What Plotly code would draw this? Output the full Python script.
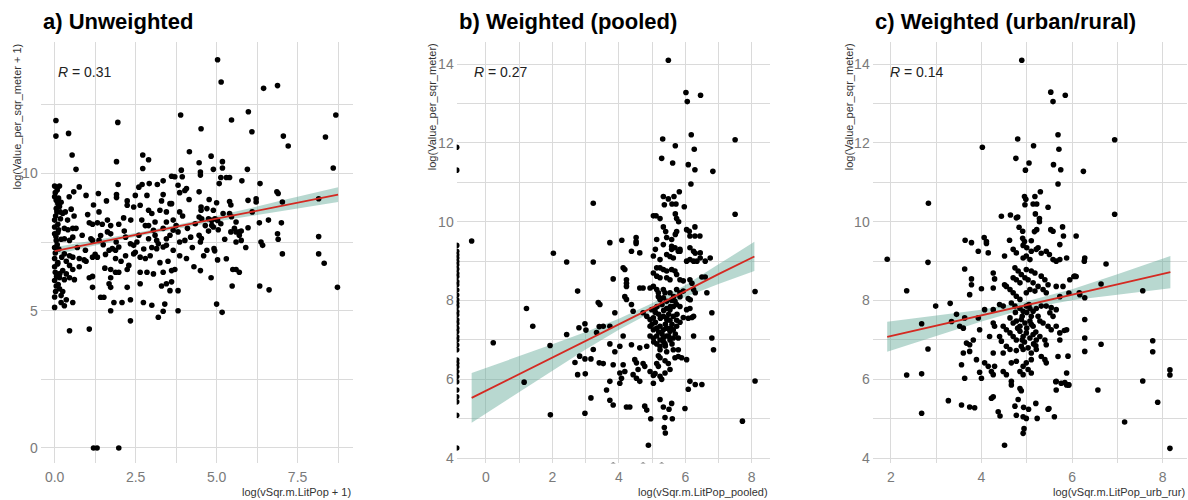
import plotly.graph_objects as go

# ---------------- data ----------------
# Panel a) Unweighted
a_x = [5.03, 5.14, 6.45, 6.88, 0.04, 0.04, 0.43, 1.95, 3.89, 4.52, 5.46, 5.98, 6.09, 8.68, 7.06, 7.21, 8.36, 0.54, 2.72, 4.16, 4.83,
       0.66, 1.91, 2.9, 2.72, 3.91,
       0.0, 0.15, 0.59, 0.76, 0.97, 1.35, 1.96, 1.91, 1.91, 2.24, 2.6, 2.7, 2.49, 2.92, 3.17, 3.35, 3.35, 3.61, 3.71, 3.81, 3.86, 4.02, 4.07, 3.94,
       0.0, 0.05, 0.1, 0.15, 0.05, 0.17, 0.25, 0.51, 1.37, 1.07, 1.17, 1.32, 1.47, 1.63, 1.73, 2.13, 2.24, 2.44, 2.64, 2.9, 3.0, 3.1, 3.25, 3.45, 3.45, 3.56, 3.66, 3.86, 3.61, 2.69, 2.8, 1.98,
       0.0, 0.0, 0.05, 0.0, 0.3, 0.41, 0.56, 0.66, 0.3, 0.46, 0.56, 1.12, 1.17, 1.37, 1.63, 1.73, 1.42, 1.9, 1.98, 1.88, 2.19, 2.34, 2.44, 2.54, 2.9, 3.05, 2.9, 3.1, 3.35, 3.45, 3.56, 3.66, 3.81, 3.86, 4.02, 4.2, 3.15, 3.2,
       0.3, 0.46, 0.56, 0.76, 0.91, 1.17, 1.32, 1.57, 1.68, 1.78, 1.88, 2.19, 2.44, 2.49, 2.64, 2.8, 2.95, 3.15, 3.35, 3.45, 3.66, 3.86, 4.07, 2.29, 2.24, 1.73, 2.64, 2.85, 3.05, 3.35, 3.61, 3.71, 0.36, 0.46, 0.56, 0.25, 0.36, 0.76, 0.97,
       0.15, 0.3, 0.46, 0.61, 1.07, 1.17, 1.73, 1.88, 1.98, 1.17, 1.68, 1.73, 2.24, 2.64, 3.3, 3.45, 3.61, 3.56, 3.81, 0.05, 0.15, 0.25, 0.0, 0.2, 0.36, 0.56, 0.0, 0.3, 1.42, 1.52, 1.83, 2.08, 2.34, 2.74, 3.0, 3.4, 3.2, 3.35, 3.81, 1.73, 2.34, 0.46, 1.07,
       0.0, 0.02, 0.0, 0.03, 0.0, 0.02, 0.04, 0.0, 0.03, 0.02, 0.08, 0.1, 0.12, 0.06, 0.1,
       1.2, 1.31, 1.98,
       4.46, 4.5, 4.5, 4.9, 5.18, 5.18, 5.95, 8.6, 5.13, 5.3, 5.4, 5.08, 5.78, 6.34, 4.46, 6.86, 6.9, 4.77, 5.0, 5.4, 5.44, 5.97, 6.22, 6.22, 7.03, 8.15,
       4.52, 4.52, 4.7, 4.9, 5.2, 5.4, 5.46, 4.46, 4.54, 4.75, 4.85, 4.95, 5.03, 5.13, 4.85, 4.9, 4.34, 5.6, 6.32, 7.0,
       4.75, 5.44, 5.6, 5.7, 5.76, 5.7, 5.97, 6.88, 6.9, 4.46, 4.53, 4.5, 5.6, 5.76, 6.37, 6.42, 7.03, 8.15, 8.15, 8.32,
       4.7, 4.92, 4.94, 5.03, 5.3, 4.5, 5.5, 5.6, 5.7, 4.83, 5.48, 6.33, 6.62, 8.73, 5.0, 5.17,
       0.08, 0.12, 0.2, 0.07, 0.18, 0.1, 0.2, 0.13, 0.22, 0.09, 0.16, 0.11, 0.2, 0.33, 0.4, 0.6, 0.7, 0.85, 0.95, 1.02,
       1.25, 1.5, 1.55, 2.05, 2.15, 2.35, 2.6, 2.75, 3.0, 3.25, 3.5, 3.75, 3.95, 4.1, 4.25, 4.3, 4.15, 3.3, 2.85, 1.6,
       1.2, 0.45, 4.6, 5.25, 5.55, 5.9, 6.1, 6.6, 5.05, 4.65]
a_y = [14.14, 13.33, 13.1, 13.2, 11.93, 11.36, 11.46, 11.86, 12.13, 11.63, 11.95, 12.25, 11.52, 12.13, 11.36, 11.0, 11.33, 10.67, 10.67, 10.79, 10.63,
       10.15, 10.43, 10.5, 10.18, 10.12,
       9.54, 9.54, 9.33, 9.51, 9.2, 9.27, 9.6, 9.23, 9.12, 9.0, 9.5, 9.6, 9.2, 9.63, 9.6, 9.73, 9.23, 9.9, 9.88, 9.57, 9.3, 9.38, 9.45, 9.88,
       9.15, 9.02, 8.9, 8.8, 8.72, 8.6, 8.54, 8.7, 8.6, 8.2, 8.15, 8.2, 8.15, 8.3, 8.1, 8.38, 8.84, 8.78, 8.84, 8.66, 8.54, 8.23, 8.66, 8.6, 8.23, 8.9, 8.3, 8.6, 8.9, 8.3, 8.1, 8.15,
       8.05, 7.8, 7.56, 7.3, 8.0, 7.95, 8.0, 8.0, 7.62, 7.56, 7.68, 7.62, 7.56, 7.56, 7.87, 7.8, 7.74, 7.5, 7.32, 7.2, 7.68, 7.44, 7.38, 7.5, 8.1, 7.93, 7.62, 7.75, 8.0, 7.62, 7.75, 7.93, 7.87, 7.5, 7.56, 7.68, 7.56, 7.44,
       7.07, 7.0, 6.95, 6.9, 6.85, 6.95, 6.95, 7.05, 7.2, 7.26, 6.9, 7.0, 7.07, 7.13, 6.95, 6.9, 7.0, 7.26, 7.32, 7.38, 7.2, 7.0, 6.9, 6.65, 6.5, 6.5, 6.4, 6.4, 6.34, 6.4, 6.46, 6.5, 6.8, 6.65, 6.5, 6.46, 6.34, 6.6, 6.8,
       6.2, 6.13, 6.2, 6.13, 6.2, 6.25, 6.2, 6.4, 6.4, 5.85, 5.98, 5.85, 5.85, 5.98, 5.9, 5.98, 6.05, 5.73, 5.73, 5.9, 5.8, 5.7, 5.5, 5.55, 5.4, 5.3, 5.12, 5.18, 5.49, 5.49, 5.3, 5.3, 5.4, 5.3, 5.2, 5.24, 4.76, 4.98, 5.0, 5.0, 4.63, 4.27, 4.33,
       6.6, 6.4, 6.1, 5.7, 6.9, 7.1, 7.7, 8.3, 8.45, 9.3, 7.4, 6.75, 7.95, 6.25, 8.15,
       0.0, 0.0, 0.0,
       10.39, 10.05, 9.94, 10.15, 10.2, 10.43, 10.15, 10.2, 9.85, 9.85, 9.85, 9.63, 9.73, 9.63, 9.33, 9.33, 9.27, 9.05, 8.93, 8.98, 8.85, 9.02, 9.08, 8.96, 8.96, 9.08,
       8.78, 8.66, 8.72, 8.66, 8.54, 8.54, 8.42, 8.41, 8.35, 8.35, 8.29, 8.35, 8.29, 8.17, 8.11, 8.05, 8.17, 8.23, 8.2, 8.2,
       7.9, 7.87, 7.87, 7.87, 7.9, 7.75, 8.02, 7.8, 7.6, 7.75, 7.63, 7.5, 7.5, 7.56, 7.5, 7.38, 7.07, 7.7, 7.07, 6.73,
       7.2, 7.26, 7.18, 6.85, 6.89, 6.46, 6.5, 6.5, 6.4, 6.2, 5.9, 5.9, 5.76, 5.85, 5.24, 4.94,
       9.4, 9.1, 8.95, 8.6, 8.35, 7.85, 7.6, 7.25, 6.95, 6.7, 6.35, 5.95, 5.3, 8.6, 8.3, 8.45, 7.3, 7.75, 7.2, 8.5,
       7.05, 7.4, 6.55, 6.8, 7.9, 8.3, 7.75, 7.25, 7.3, 6.75, 6.8, 8.1, 8.45, 8.0, 7.3, 6.6, 9.05, 9.0, 9.2, 9.0,
       8.85, 9.15, 7.0, 7.6, 8.0, 7.3, 8.6, 8.3, 7.95, 8.1]

# Panel b) Weighted (pooled)
b_x = [5.49, 6.02, 6.06, 6.46, 5.32, 5.7, 6.18, 7.5, 5.29, 5.62, 6.09, 6.27, 6.29, 6.83, 6.17, 3.23, 7.5, 5.34, 5.49, 5.66, 5.82, 5.37, 5.6, 5.72, 5.97,
       5.04, 5.12, 5.24, 5.7, 5.74, 5.8, 5.34, 5.41, 6.04, 6.12, 6.29, 6.14, 6.29, 6.44, 5.74, 5.7, 5.14, 5.44, 5.59, 4.52, 4.52, 4.52, 3.73, 4.09, -0.43,
       0.22, 1.22, 1.41, 1.15, 1.93, 1.94, 2.03, 2.43, 2.43, 2.76, 2.8, 2.68, 2.82, 2.98, 3.01, 2.98, 3.16, 2.99, 2.76, 2.98, 3.16, 3.23, 3.23, 3.33, 3.38, 3.41, 3.41,
       8.1, 8.1, 7.72,
       4.38, 4.63, 5.44, 5.54, 5.64, 5.04, 5.24, 6.04, 6.14, 6.25, 6.35, 6.45, 6.6, 6.75, 6.3, 5.79, 5.84, 5.1,
       5.34, 5.59, 5.59, 5.69, 5.84, 6.14, 6.25, 6.45,
       4.13, 4.18, 3.83, 4.23, 4.23, 4.23, 5.14, 5.24, 5.34, 5.44, 5.59, 5.69, 5.04, 5.14, 5.24, 5.44, 5.54, 5.74, 5.84, 5.94, 6.14, 6.2, 6.5, 6.6,
       4.63, 4.73, 4.94, 5.04, 5.14, 5.19, 4.18, 4.23, 5.34, 5.39, 5.54, 5.74, 5.84, 5.94, 6.25, 6.3, 6.65, 5.19, 5.24, 5.34, 5.44, 5.59, 5.69, 5.84, 6.09, 6.15,
       4.38, 4.43, 4.99, 5.09, 4.73, 5.44, 5.54, 5.64, 5.74, 5.84, 6.04, 6.14, 6.25, 6.8, 3.88, 3.43, 3.53, 3.73,
       4.84, 4.94, 5.04, 5.34, 5.44, 5.54, 5.64, 5.74, 5.84, 5.94, 6.09, 6.2,
       4.94, 5.04, 5.14, 5.24, 5.34, 5.44, 5.54, 5.64, 5.74,
       4.94, 5.04, 5.14, 5.24, 5.34, 5.44, 5.54, 5.64, 5.79, 6.25, 6.8,
       3.73, 4.13, 4.03, 4.38, 4.63, 4.84, 5.14, 5.24, 5.39, 5.24, 5.44, 5.64, 5.79, 3.88, 6.85,
       3.53, 3.83, 4.13, 4.18, 4.48, 4.53, 4.58, 4.73, 4.78, 5.19, 5.24, 5.39, 5.49, 5.69, 5.79, 5.89, 6.04, 5.14, 5.19, 4.94, 5.04, 5.09, 5.24, 5.29, 5.39, 5.54,
       4.03, 4.08, 4.43, 4.53, 4.63, 4.03, 3.73, 5.04, 6.14, 6.3, 6.5,
       5.1, 5.2, 5.3, 5.4, 5.5, 5.6, 5.7, 5.15, 5.3, 5.5, 5.05, 5.35, 5.6, 5.45, 5.25, 5.55, 5.65, 5.0, 5.75, 5.2, 5.4, 5.1, 5.55, 5.35, 5.6,
       3.63, 3.73, 3.83, 4.23, 4.33, 4.78, 4.84, 4.96, 5.24, 5.34, 5.51, 5.59, 5.39, 5.61, 5.99, 5.37, 5.4, 4.89, 6.09, 3.83, 4.73, 5.29,
       -0.88, -0.88, -0.88, -0.88, -0.88, -0.88, -0.88, -0.88, -0.88, -0.88, -0.88, -0.88, -0.88, -0.88, -0.88, -0.88, -0.88, -0.88, -0.88, -0.88,
       -0.88, -0.88, -0.88, -0.88, -0.88, -0.88, -0.88, -0.88, -0.88, -0.88, -0.88, -0.88, -0.88, -0.88, -0.88, -0.88, -0.88, -0.88, -0.88]
b_y = [14.1, 13.28, 13.05, 13.21, 12.1, 11.93, 12.21, 12.08, 11.61, 11.49, 11.45, 11.84, 11.32, 11.28, 10.96, 10.47, 10.19, 10.64, 10.58, 10.64, 10.76, 10.43, 10.45, 10.45, 10.38,
       10.15, 10.15, 10.08, 10.2, 10.08, 10.0, 9.87, 9.75, 9.8, 9.76, 9.87, 9.64, 9.64, 9.64, 9.75, 9.68, 9.55, 9.6, 9.55, 9.6, 9.5, 9.45, 9.47, 9.53, 9.51,
       6.93, 7.8, 7.35, 5.93, 6.86, 5.1, 9.2, 8.98, 7.14, 8.24, 7.31, 6.43, 6.59, 7.41, 7.25, 6.52, 6.52, 6.14, 6.12, 5.14, 5.53, 8.98, 6.76, 7.19, 7.95, 7.34, 6.42,
       8.23, 5.96, 4.94,
       9.25, 9.21, 9.17, 9.12, 9.08, 9.13, 9.04, 9.0, 9.04, 9.0, 9.0, 9.08, 9.0, 9.08, 9.2, 9.25, 9.3, 9.3,
       9.42, 9.38, 9.3, 9.34, 9.25, 9.34, 9.25, 9.21,
       8.83, 8.79, 8.55, 8.53, 8.44, 8.36, 8.83, 8.83, 8.79, 8.75, 8.79, 8.75, 8.7, 8.62, 8.58, 8.58, 8.53, 8.66, 8.53, 8.5, 8.53, 8.44, 8.6, 8.6,
       8.32, 8.32, 8.32, 8.36, 8.28, 8.2, 8.1, 8.03, 8.28, 8.2, 8.2, 8.28, 8.2, 8.24, 8.28, 8.2, 8.2, 8.1, 8.03, 8.07, 7.98, 8.02, 7.98, 8.1, 8.05, 8.02,
       7.9, 7.73, 7.77, 7.8, 7.69, 7.8, 7.77, 7.85, 7.9, 7.85, 7.77, 7.8, 7.6, 7.69, 7.69, 7.9, 7.35, 7.35,
       7.6, 7.52, 7.56, 7.6, 7.55, 7.5, 7.6, 7.5, 7.45, 7.57, 7.55, 7.57,
       7.35, 7.26, 7.3, 7.35, 7.26, 7.3, 7.22, 7.26, 7.35,
       7.1, 7.05, 7.1, 7.0, 7.05, 7.1, 7.0, 7.05, 7.05, 7.1, 7.05,
       6.9, 7.1, 6.84, 6.88, 6.8, 6.84, 6.9, 6.84, 6.9, 6.75, 6.7, 6.75, 6.75, 6.7, 6.75,
       6.4, 6.37, 6.37, 6.2, 6.5, 6.42, 6.25, 6.4, 6.33, 6.6, 6.55, 6.47, 6.4, 6.55, 6.58, 6.55, 6.5, 6.4, 6.33, 6.2, 6.1, 6.15, 6.08, 6.0, 6.16, 6.25,
       6.16, 6.03, 6.12, 6.03, 5.95, 5.9, 5.95, 5.9, 5.95, 5.87, 5.87,
       7.45, 7.65, 7.15, 7.4, 7.65, 7.4, 7.15, 7.85, 7.9, 7.1, 6.95, 6.95, 6.9, 7.5, 7.55, 7.85, 8.1, 7.4, 7.65, 7.2, 6.85, 7.7, 7.3, 7.75, 8.0,
       5.73, 5.47, 5.35, 5.3, 5.3, 5.32, 5.22, 5.0, 5.49, 5.3, 5.24, 5.39, 5.03, 5.0, 5.26, 4.78, 4.64, 4.33, 5.75, 3.82, 3.82, 3.82,
       11.89, 11.31, 9.4, 9.25, 9.16, 9.08, 8.99, 8.91, 8.8, 8.69, 8.61, 8.48, 8.4, 8.27, 8.14, 8.02, 7.93, 7.85, 7.72, 7.64,
       7.51, 7.42, 7.3, 7.21, 7.08, 7.0, 6.87, 6.75, 6.49, 6.41, 6.32, 6.2, 6.07, 5.94, 5.73, 5.56, 5.43, 5.09, 4.26]

# Panel c) Weighted (urban/rural)
c_x = [4.89, 5.53, 5.58, 5.85, 4.8, 5.15, 5.69, 6.94, 4.02, 4.76, 5.05, 4.97, 5.59, 5.71, 5.75, 6.25, 5.69, 2.83, 6.94, 4.95, 4.98, 5.18, 5.3, 4.96, 5.14, 5.22, 5.47,
       4.44, 4.64, 4.77, 4.8, 5.19, 5.28, 5.28, 4.83, 4.91, 5.53, 5.58, 5.79, 6.09, 5.81, 5.17, 5.22, 3.64, 3.78, 4.06, 4.11, 4.11, 4.62, 4.91, 4.95, 5.1,
       3.93, 4.15, 4.92, 5.0, 5.1, 5.21, 4.7, 4.77, 4.51, 4.92, 4.99, 5.07, 5.25, 5.32, 5.43, 5.5, 5.58, 5.65, 5.73, 5.88, 6.28, 5.73,
       3.63, 3.78, 3.78, 3.74, 4.0, 4.26, 4.29, 4.26, 4.51, 4.55, 4.74, 4.81, 4.88, 4.96, 4.99, 5.1, 5.18, 4.7, 4.77, 4.85, 5.03, 5.14, 5.32, 5.4, 5.47, 5.25, 5.65, 5.8, 5.95, 6.06,
       4.63, 4.7, 4.77, 4.85, 4.99, 5.07, 5.18, 5.36, 5.43, 5.73, 6.17, 6.28,
       4.4, 4.48, 4.26, 4.07, 3.63, 3.93, 4.66, 4.74, 4.85, 4.92, 4.99, 5.07, 5.14, 5.21, 5.32, 5.43, 5.54, 5.65, 5.51, 5.58,
       3.52, 3.6, 3.96, 4.26, 4.29, 4.48, 4.55, 4.63, 4.7, 4.77, 4.88, 4.96, 5.07, 5.14, 5.29, 5.36, 5.47, 5.54, 5.65, 5.73, 5.88, 6.28,
       4.63, 4.7, 4.77, 4.85, 4.92, 4.99, 5.07, 5.14, 5.21, 5.29, 4.4, 4.44, 4.18, 3.82, 3.67, 3.74, 5.4, 5.43, 5.73, 6.28,
       4.55, 4.63, 4.77, 4.88, 4.92, 5.03, 5.1, 5.21, 5.32, 3.6, 3.74, 4.26, 4.48, 3.89, 3.56, 4.07, 4.15, 4.29, 4.66, 4.77, 4.92, 4.99, 5.1, 5.4, 5.43, 5.69, 5.88,
       3.96, 4.0, 4.22, 4.26, 4.48, 4.55, 4.85, 4.92, 5.03, 5.1, 4.66, 4.66, 5.65, 5.76, 5.88, 6.28, 3.63,
       4.8, 4.9, 5.0, 5.1, 5.2, 4.75, 4.95, 5.05, 5.15, 5.25, 4.85, 5.0, 4.9, 5.1, 5.2,
       3.56, 3.74, 3.85, 4.22, 4.26, 4.37, 4.41, 4.51, 4.74, 4.81, 4.85, 4.88, 4.77, 4.92, 4.99, 4.93, 5.04, 5.2, 5.23, 4.94, 4.92, 5.49, 5.64, 5.65, 5.84, 5.92, 4.91,
       1.92, 2.35, 2.82, 2.99, 2.68, 2.82, 2.35, 2.68, 2.68, 3.27, 3.31, 3.34, 3.45, 3.48,
       7.56, 7.56, 7.78, 7.78, 7.89, 8.16, 8.16, 8.16, 7.16, 6.57, 6.64, 6.64, 6.75,
       6.27, 6.16, 6.04, 6.09, 5.93, 5.83, 5.91, 5.93, 5.61, 5.47]
c_y = [14.1, 13.29, 13.05, 13.21, 12.1, 11.93, 12.21, 12.08, 11.89, 11.61, 11.49, 11.31, 11.45, 11.84, 11.32, 11.28, 10.96, 10.47, 10.19, 10.64, 10.57, 10.64, 10.76, 10.43, 10.45, 10.45, 10.37,
       10.14, 10.17, 10.1, 10.12, 10.2, 10.08, 10.0, 9.86, 9.76, 9.8, 9.76, 9.87, 9.64, 9.64, 9.75, 9.8, 9.53, 9.47, 9.6, 9.45, 9.5, 9.53, 9.58, 9.5, 9.52,
       9.25, 9.21, 9.4, 9.34, 9.25, 9.3, 9.3, 9.21, 9.13, 9.08, 9.13, 9.04, 9.34, 9.2, 9.25, 9.17, 9.04, 9.0, 9.04, 9.08, 9.08, 9.42,
       8.8, 8.55, 8.4, 8.15, 8.3, 8.7, 8.55, 8.32, 8.4, 8.36, 8.83, 8.75, 8.66, 8.58, 8.79, 8.75, 8.7, 8.58, 8.53, 8.45, 8.53, 8.45, 8.62, 8.53, 8.4, 8.36, 8.36, 8.36, 8.53, 8.62,
       8.28, 8.2, 8.11, 8.03, 8.2, 8.28, 8.24, 8.28, 8.2, 8.1, 8.15, 8.07,
       7.9, 7.86, 7.77, 7.77, 7.56, 7.56, 7.94, 7.86, 7.8, 7.73, 7.86, 7.8, 7.73, 7.8, 7.86, 7.86, 7.82, 7.77, 7.69, 7.6,
       7.35, 7.3, 7.26, 7.43, 7.35, 7.35, 7.26, 7.56, 7.43, 7.48, 7.52, 7.43, 7.48, 7.35, 7.48, 7.43, 7.35, 7.26, 7.35, 7.18, 7.26, 7.52,
       7.18, 7.09, 7.0, 7.22, 7.09, 7.18, 7.05, 7.14, 7.0, 7.09, 7.09, 6.97, 7.09, 7.0, 6.92, 6.88, 7.0, 6.88, 7.0, 7.05,
       6.84, 6.76, 6.73, 6.84, 6.76, 6.8, 6.67, 6.76, 6.58, 6.67, 6.71, 6.67, 6.67, 6.5, 6.37, 6.42, 6.33, 6.33, 6.42, 6.46, 6.33, 6.42, 6.5, 6.5, 6.42, 6.58, 6.16,
       6.18, 6.03, 6.2, 6.12, 6.2, 6.12, 6.2, 6.12, 6.25, 6.16, 5.95, 5.86, 5.95, 5.9, 5.86, 6.71, 6.03,
       7.3, 7.6, 7.3, 7.6, 7.2, 7.7, 6.95, 7.9, 6.9, 7.6, 7.35, 7.7, 7.0, 7.4, 6.85,
       5.35, 5.3, 5.28, 5.52, 5.56, 5.18, 5.07, 4.33, 5.32, 5.49, 5.77, 5.71, 5.09, 5.05, 5.01, 5.29, 5.24, 5.39, 5.01, 4.75, 4.63, 5.26, 5.94, 5.73, 5.92, 5.86, 3.78,
       9.05, 8.25, 8.97, 7.86, 7.41, 6.77, 6.11, 6.14, 5.14, 5.46, 7.93, 7.47, 7.65, 3.76,
       8.25, 5.96, 6.98, 6.7, 5.42, 6.24, 6.11, 4.25, 4.92, 5.73, 6.89, 8.42, 8.93,
       9.0, 8.2, 8.61, 8.61, 8.19, 7.24, 6.59, 5.86, 5.05, 5.24]

# regression lines and 95% bands, read at a few x positions
a_fit_x = [0.0, 1.0, 2.5, 4.0, 5.0, 6.0, 7.0, 8.0, 8.75]
a_fit_y = [7.17, 7.41, 7.76, 8.11, 8.35, 8.58, 8.82, 9.05, 9.23]
a_fit_lo = [7.03, 7.31, 7.69, 8.03, 8.25, 8.44, 8.63, 8.81, 8.96]
a_fit_hi = [7.31, 7.51, 7.83, 8.19, 8.45, 8.72, 9.01, 9.29, 9.50]

b_fit_x = [-0.43, 1.0, 2.0, 3.0, 4.0, 5.0, 6.0, 7.0, 8.08]
b_fit_y = [5.53, 6.13, 6.56, 6.98, 7.40, 7.82, 8.24, 8.67, 9.12]
b_fit_lo = [4.90, 5.68, 6.23, 6.76, 7.26, 7.71, 8.09, 8.42, 8.75]
b_fit_hi = [6.16, 6.58, 6.89, 7.20, 7.54, 7.93, 8.39, 8.92, 9.49]

c_fit_x = [1.92, 3.0, 4.0, 5.0, 6.0, 7.0, 8.17]
c_fit_y = [7.08, 7.36, 7.62, 7.89, 8.15, 8.41, 8.72]
c_fit_lo = [6.70, 7.10, 7.47, 7.80, 8.01, 8.15, 8.31]
c_fit_hi = [7.46, 7.62, 7.77, 7.98, 8.29, 8.67, 9.13]

titles = ["a) Unweighted", "b) Weighted (pooled)", "c) Weighted (urban/rural)"]
r_labels = ["0.31", "0.27", "0.14"]
y_titles = ["log(Value_per_sqr_meter + 1)", "log(Value_per_sqr_meter)", "log(Value_per_sqr_meter)"]
x_titles = ["log(vSqr.m.LitPop + 1)", "log(vSqr.m.LitPop_pooled)", "log(vSqr.m.LitPop_urb_rur)"]

# ---------------- figure ----------------
W, H = 1188, 500
FONT = "Liberation Sans, Arial, sans-serif"
GRID = "#dadada"
BAND = "rgba(98,168,150,0.45)"
RED = "#d42a22"

panels = [
    dict(x=a_x, y=a_y, fx=a_fit_x, fy=a_fit_y, lo=a_fit_lo, hi=a_fit_hi,
         px=(40.7, 353.0), xr=[-0.43, 9.21], yr=[-0.56, 14.8],
         xt=[0, 2.5, 5, 7.5], xtt=["0.0", "2.5", "5.0", "7.5"], xm=1.25,
         yt=[0, 5, 10], ym=2.5, ytitle_x=16.7, rx=55.7),
    dict(x=b_x, y=b_y, fx=b_fit_x, fy=b_fit_y, lo=b_fit_lo, hi=b_fit_hi,
         px=(456.7, 770.0), xr=[-0.88, 8.55], yr=[3.87, 14.57],
         xt=[0, 2, 4, 6, 8], xtt=["0", "2", "4", "6", "8"], xm=1,
         yt=[4, 6, 8, 10, 12, 14], ym=1, ytitle_x=432, rx=471.7),
    dict(x=c_x, y=c_y, fx=c_fit_x, fy=c_fit_y, lo=c_fit_lo, hi=c_fit_hi,
         px=(872.7, 1186.7), xr=[1.6, 8.53], yr=[3.87, 14.57],
         xt=[2, 4, 6, 8], xtt=["2", "4", "6", "8"], xm=1,
         yt=[4, 6, 8, 10, 12, 14], ym=1, ytitle_x=849, rx=887.7),
]

TOP, BOT = 41.7, 463.3
fig = go.Figure()
layout = dict(width=W, height=H, margin=dict(l=0, r=0, t=0, b=0, autoexpand=False),
              paper_bgcolor="white", plot_bgcolor="white", showlegend=False,
              font=dict(family=FONT, color="#333333"))
annotations = []

for i, p in enumerate(panels):
    n = "" if i == 0 else str(i + 1)
    xa, ya = "x" + n, "y" + n
    # confidence band
    fig.add_trace(go.Scatter(x=p["fx"], y=p["lo"], mode="lines", line=dict(width=0, color=BAND),
                             xaxis=xa, yaxis=ya, hoverinfo="skip"))
    fig.add_trace(go.Scatter(x=p["fx"], y=p["hi"], mode="lines", line=dict(width=0, color=BAND),
                             fill="tonexty", fillcolor=BAND, xaxis=xa, yaxis=ya, hoverinfo="skip"))
    # points
    fig.add_trace(go.Scatter(x=p["x"], y=p["y"], mode="markers",
                             marker=dict(size=5.6, color="black", line=dict(width=0)),
                             xaxis=xa, yaxis=ya, cliponaxis=True))
    # regression line
    fig.add_trace(go.Scatter(x=p["fx"], y=p["fy"], mode="lines", line=dict(color=RED, width=1.8),
                             xaxis=xa, yaxis=ya))

    dom_x = [p["px"][0] / W, p["px"][1] / W]
    dom_y = [1 - BOT / H, 1 - TOP / H]
    layout["xaxis" + n] = dict(domain=dom_x, anchor=ya, range=p["xr"], tickvals=p["xt"], ticktext=p["xtt"],
                               showgrid=True, gridcolor=GRID, gridwidth=1, zeroline=False, showline=False,
                               ticks="", ticklabelstandoff=4, automargin=False,
                               tickfont=dict(size=14, color="#7a7a7a", family=FONT),
                               minor=dict(showgrid=True, gridcolor=GRID, gridwidth=1, dtick=p["xm"],
                                          tick0=p["xt"][0]))
    layout["yaxis" + n] = dict(domain=dom_y, anchor=xa, range=p["yr"], tickvals=p["yt"],
                               showgrid=True, gridcolor=GRID, gridwidth=1, zeroline=False, showline=False,
                               ticks="", ticklabelstandoff=2, automargin=False,
                               tickfont=dict(size=14, color="#7a7a7a", family=FONT),
                               minor=dict(showgrid=True, gridcolor=GRID, gridwidth=1, dtick=p["ym"],
                                          tick0=p["yt"][0]))
    # panel title
    annotations.append(dict(text="<b>" + titles[i] + "</b>", x=p["px"][0] / W, y=1 - 21 / H,
                            xref="paper", yref="paper", xanchor="left", yanchor="middle", showarrow=False,
                            font=dict(size=22, color="black", family=FONT)))
    # R label
    annotations.append(dict(text="<i>R</i> = " + r_labels[i], x=p["rx"] / W, y=1 - 72 / H,
                            xref="paper", yref="paper", xanchor="left", yanchor="middle", showarrow=False,
                            font=dict(size=14, color="#222222", family=FONT)))
    # y axis title
    annotations.append(dict(text=y_titles[i], x=p["ytitle_x"] / W, y=1 - TOP / H, textangle=-90,
                            xref="paper", yref="paper", xanchor="center", yanchor="top", showarrow=False,
                            font=dict(size=11, color="#333333", family=FONT)))
    # x axis title
    annotations.append(dict(text=x_titles[i], x=p["px"][1] / W, y=1 - 492 / H,
                            xref="paper", yref="paper", xanchor="right", yanchor="middle", showarrow=False,
                            font=dict(size=11, color="#333333", family=FONT)))

layout["annotations"] = annotations
fig.update_layout(**layout)
fig.write_html("out.html", config={"displayModeBar": False},
               post_script="document.body.style.margin='0px';document.body.style.padding='0px';")
